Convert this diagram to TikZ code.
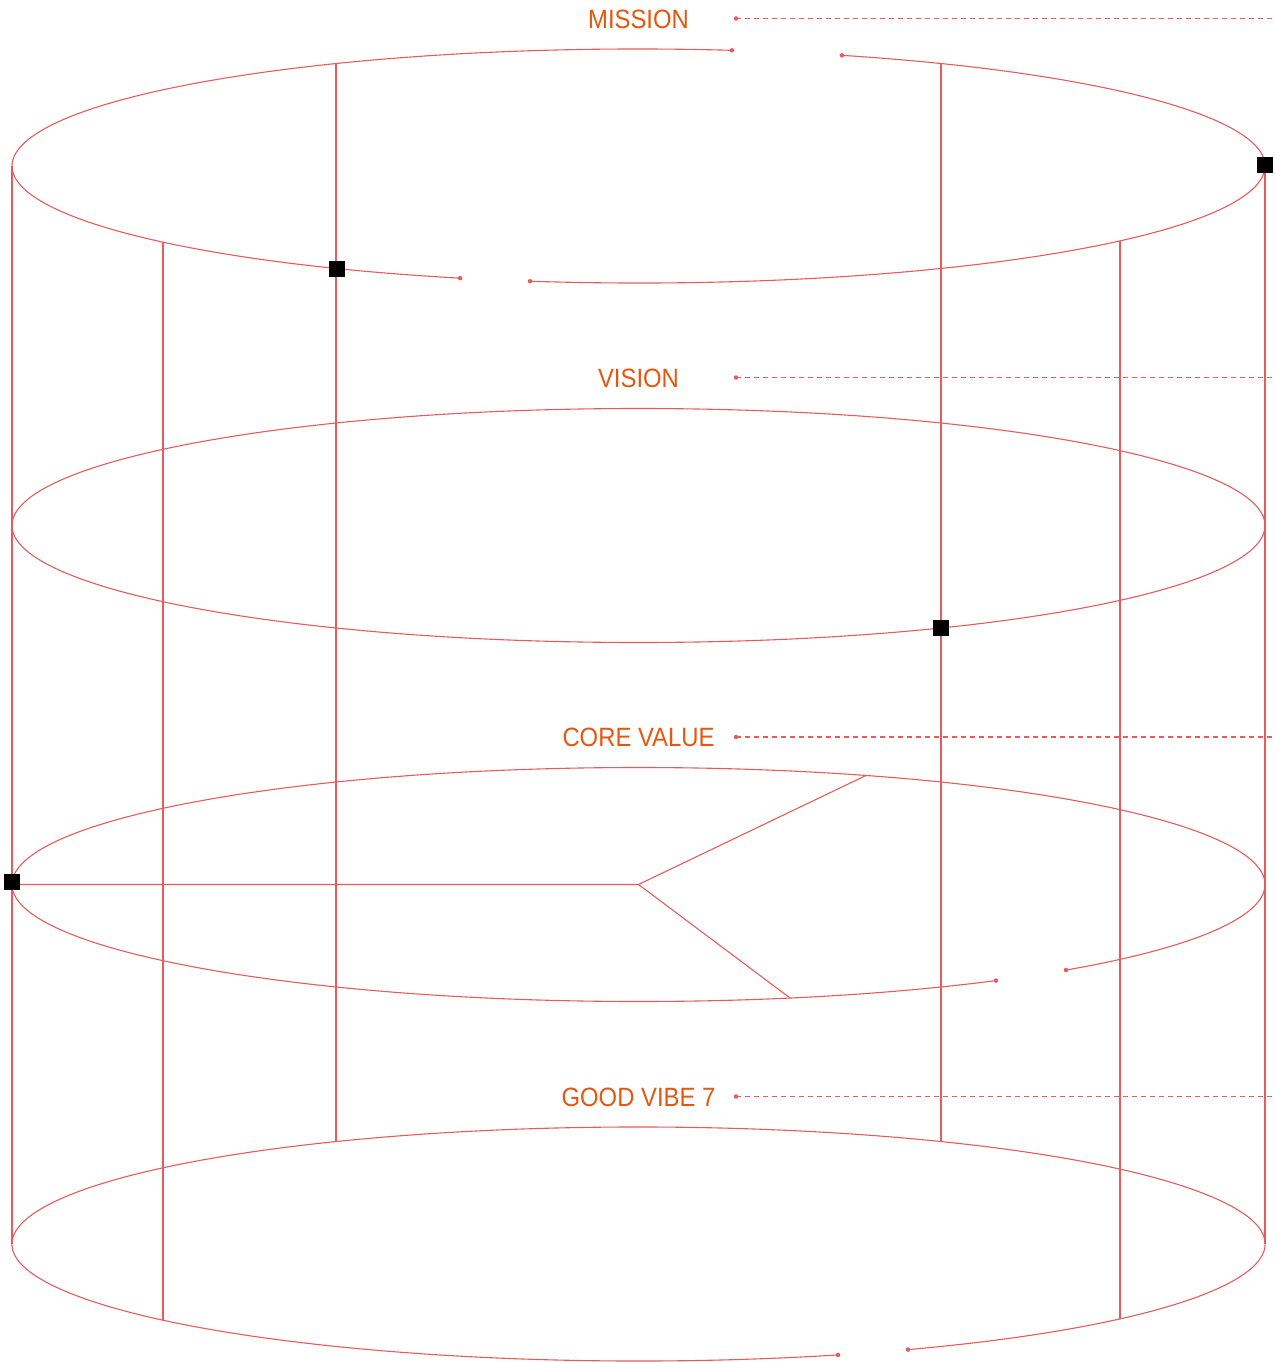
\documentclass[tikz,border=0pt]{standalone}
\usepackage{fontspec}
\setmainfont[FakeStretch=0.9]{Liberation Sans}
\usetikzlibrary{calc}
\definecolor{linered}{HTML}{E85A5C}
\definecolor{labelorange}{HTML}{E8560E}
\tikzset{
  ring/.style={draw=linered, line width=1.1pt},
  guide/.style={draw=linered, line width=1.1pt, dash pattern=on 5pt off 4pt},
  enddot/.style={fill=linered, circle, inner sep=0pt, minimum size=4.5pt},
  marker/.style={fill=black, draw=none, inner sep=0pt, minimum size=16pt},
  lbl/.style={text=labelorange, font=\fontsize{26.5}{30}\selectfont, inner sep=0pt},
  ell/.style={x radius=626.5pt, y radius=117pt}
}
\begin{document}
\begin{tikzpicture}[x=1pt,y=1pt]
\useasboundingbox (0,0) rectangle (1274,-1362);
% ellipse centres
\coordinate (e1) at (638.5,-166);
\coordinate (e2) at (638.5,-525.5);
\coordinate (e3) at (638.5,-884.5);
\coordinate (e4) at (638.5,-1244);
% ellipse 1 with two gaps
\draw[ring] ([shift={(81.42:626.5pt and 117pt)}]e1) arc[ell, start angle=81.42, end angle=253.45];
\draw[ring] ([shift={(260.03:626.5pt and 117pt)}]e1) arc[ell, start angle=260.03, end angle=431.05];
\node[enddot] (g1a) at ([shift={(81.42:626.5pt and 117pt)}]e1) {};
\node[enddot] (g1b) at ([shift={(71.05:626.5pt and 117pt)}]e1) {};
\node[enddot] (g1c) at ([shift={(253.45:626.5pt and 117pt)}]e1) {};
\node[enddot] (g1d) at ([shift={(260.03:626.5pt and 117pt)}]e1) {};
% ellipse 2 full
\draw[ring] (e2) ellipse[ell];
% ellipse 3 with gap
\draw[ring] ([shift={(313.03:626.5pt and 117pt)}]e3) arc[ell, start angle=313.03, end angle=664.79];
\node[enddot] (g3a) at ([shift={(304.79:626.5pt and 117pt)}]e3) {};
\node[enddot] (g3b) at ([shift={(313.03:626.5pt and 117pt)}]e3) {};
% ellipse 4 with gap
\draw[ring] ([shift={(295.48:626.5pt and 117pt)}]e4) arc[ell, start angle=295.48, end angle=648.57];
\node[enddot] (g4a) at ([shift={(288.57:626.5pt and 117pt)}]e4) {};
\node[enddot] (g4b) at ([shift={(295.48:626.5pt and 117pt)}]e4) {};
% vertical lines
\coordinate (l1t) at ([shift={(180:626.5pt and 117pt)}]e1);
\coordinate (l1b) at ([shift={(180:626.5pt and 117pt)}]e4);
\coordinate (r1t) at ([shift={(0:626.5pt and 117pt)}]e1);
\coordinate (r1b) at ([shift={(0:626.5pt and 117pt)}]e4);
\coordinate (l2t) at ([shift={(220.62:626.5pt and 117pt)}]e1);
\coordinate (l2b) at ([shift={(220.62:626.5pt and 117pt)}]e4);
\coordinate (r2t) at ([shift={(320.23:626.5pt and 117pt)}]e1);
\coordinate (r2b) at ([shift={(320.23:626.5pt and 117pt)}]e4);
\coordinate (l3t) at ([shift={(118.87:626.5pt and 117pt)}]e1);
\coordinate (l3b) at ([shift={(118.87:626.5pt and 117pt)}]e4);
\coordinate (r3t) at ([shift={(61.13:626.5pt and 117pt)}]e1);
\coordinate (r3b) at ([shift={(61.13:626.5pt and 117pt)}]e4);
\draw[ring] (l1t) -- (l1b);
\draw[ring] (r1t) -- (r1b);
\draw[ring] (l2t) -- (l2b);
\draw[ring] (r2t) -- (r2b);
\draw[ring] (l3t) -- (l3b);
\draw[ring] (r3t) -- (r3b);
% core value spokes
\coordinate (hubL) at ([shift={(180:626.5pt and 117pt)}]e3);
\coordinate (spA) at ([shift={(68.71:626.5pt and 117pt)}]e3);
\coordinate (spB) at ([shift={(284.0:626.5pt and 117pt)}]e3);
\draw[ring] (hubL) -- (e3) -- (spA);
\draw[ring] (e3) -- (spB);
% labels and guides
\node[lbl] (mission) at (638.5,-19) {MISSION};
\node[lbl] (vision) at (638.5,-378) {VISION};
\node[lbl] (core) at (638.5,-737.5) {CORE VALUE};
\node[lbl] (vibe) at (638.5,-1097) {GOOD VIBE 7};
\node[enddot] (d1) at (736,-18.5) {};
\node[enddot] (d2) at (736,-377.5) {};
\node[enddot] (d3) at (736,-737) {};
\node[enddot] (d4) at (736,-1096.5) {};
\coordinate (f1) at (1274,-18.5);
\coordinate (f2) at (1274,-377.5);
\coordinate (f3) at (1274,-737);
\coordinate (f4) at (1274,-1096.5);
\draw[guide] (d1.center) -- (f1);
\draw[guide] (d2.center) -- (f2);
\draw[guide] (d3.center) -- (f3);
\draw[guide] (d4.center) -- (f4);
% markers
\node[marker] (m1) at (337,-268.5) {};
\node[marker] (m2) at (1265,-164.5) {};
\node[marker] (m3) at (941,-627.5) {};
\node[marker] (m4) at (12,-881.5) {};
\end{tikzpicture}
\end{document}
